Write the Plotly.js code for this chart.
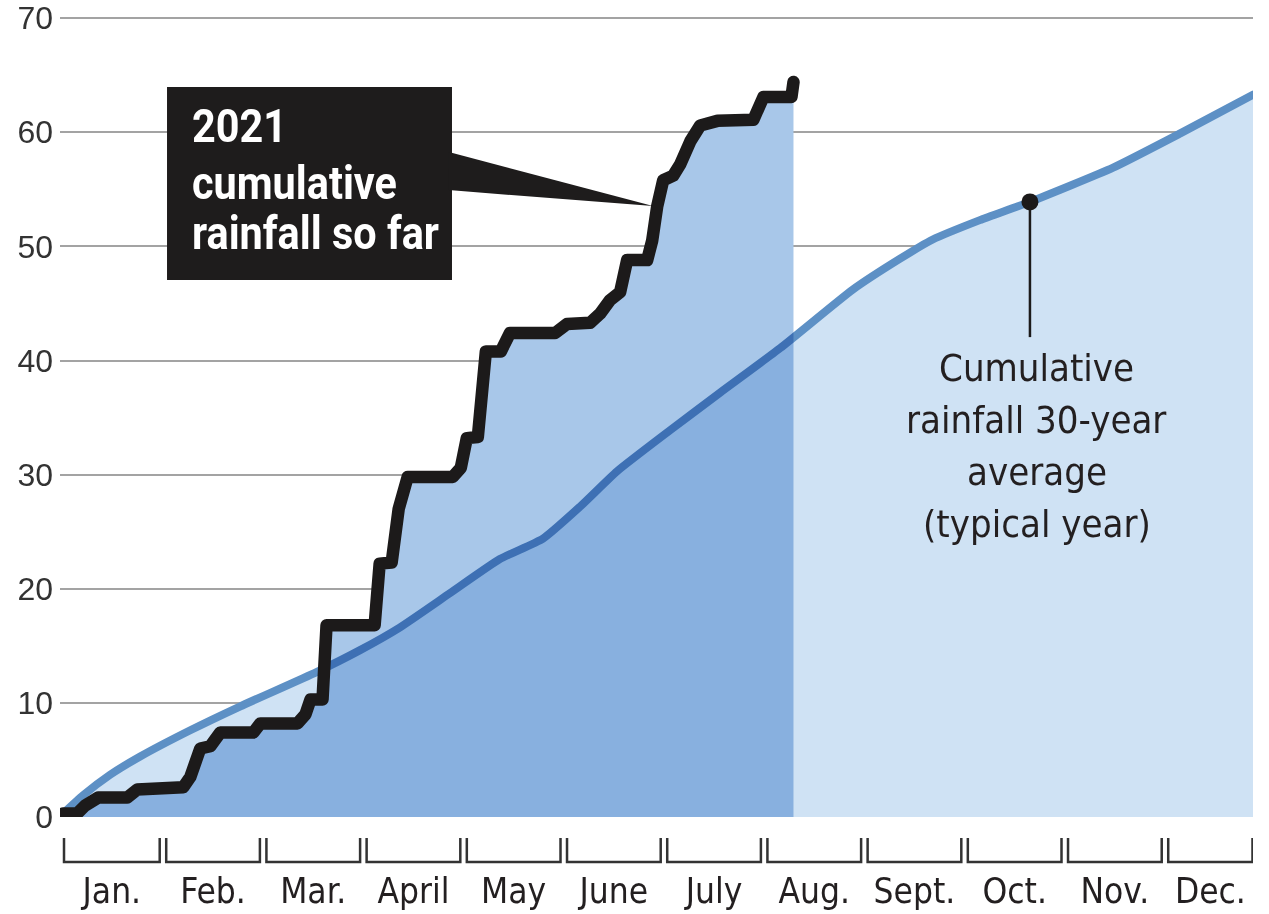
<!DOCTYPE html>
<html>
<head>
<meta charset="utf-8">
<script src="https://cdn.plot.ly/plotly-3.0.1.min.js"></script>
<style>
  html, body { margin: 0; padding: 0; background: #ffffff; }
  #chart { width: 1269px; height: 914px; }
</style>
</head>
<body>
<div id="chart"></div>
<script>
// ---- Data (x in months from Jan. 1; y in inches) ----
const months = ["Jan.", "Feb.", "Mar.", "April", "May", "June", "July", "Aug.", "Sept.", "Oct.", "Nov.", "Dec."];
const yTicks = [0, 10, 20, 30, 40, 50, 60, 70];

// 2021 cumulative rainfall (step-like trace)
const rainX = [0.00, 0.14, 0.22, 0.35, 0.64, 0.74, 1.20, 1.27, 1.37, 1.47, 1.57, 1.90, 1.97, 2.34, 2.42, 2.47, 2.59, 2.63,
               3.11, 3.16, 3.28, 3.35, 3.44, 3.89, 3.97, 4.03, 4.14, 4.22, 4.37, 4.46, 4.91, 5.03, 5.26, 5.36, 5.46,
               5.56, 5.63, 5.83, 5.88, 5.93, 5.99, 6.09, 6.16, 6.26, 6.36, 6.53, 6.89, 6.99, 7.27, 7.29];
const rainY = [0.3, 0.3, 1.0, 1.7, 1.7, 2.4, 2.6, 3.5, 6.0, 6.2, 7.4, 7.4, 8.2, 8.2, 9.0, 10.3, 10.3, 16.8,
               16.8, 22.2, 22.3, 27.0, 29.8, 29.8, 30.6, 33.2, 33.3, 40.8, 40.8, 42.4, 42.4, 43.2, 43.3, 44.1, 45.3,
               46.0, 48.8, 48.8, 50.5, 53.5, 55.8, 56.2, 57.2, 59.2, 60.6, 61.0, 61.1, 63.1, 63.1, 64.4];

// 30-year average cumulative rainfall
const avgX = [0.00, 0.20, 0.47, 0.77, 1.27, 1.77, 2.53, 2.96, 3.36, 3.86, 4.36, 4.79, 5.16, 5.53, 6.06, 6.56,
              7.16, 7.88, 8.35, 8.68, 9.15, 9.65, 10.48, 11.15, 11.88];
const avgY = [0.3, 1.9, 3.7, 5.3, 7.6, 9.7, 12.7, 14.6, 16.6, 19.6, 22.6, 24.4, 27.2, 30.3, 33.9, 37.2,
              41.1, 46.2, 48.9, 50.6, 52.3, 53.9, 56.9, 59.9, 63.3];
const avgLabelIndex = 21; // point marked with the dot

// ---- Month brackets & label positions ----
const X_END = 11.876;
const bracketL = months.map((m, i) => (i === 0 ? 0.01 : i + 0.03));
const bracketR = months.map((m, i) => Math.min(i + 0.965, X_END - 0.005));
const monthCenters = months.map((m, i) => (bracketL[i] + bracketR[i]) / 2);

const COND = "'DejaVu Sans Condensed', 'Liberation Sans Narrow', 'Arial Narrow', sans-serif";
const BOLD_FONT = "Roboto, 'Liberation Sans', Arial, sans-serif";

const traces = [
  { // average area
    x: avgX, y: avgY, type: 'scatter', mode: 'lines', fill: 'tozeroy',
    fillcolor: '#cfe2f4', line: { width: 0, color: 'rgba(0,0,0,0)' }, hoverinfo: 'skip'
  },
  { // average line
    x: avgX, y: avgY, type: 'scatter', mode: 'lines',
    line: { width: 8, color: '#5d90c5', shape: 'spline', smoothing: 0.5 }, hoverinfo: 'skip'
  },
  { // 2021 area
    x: rainX, y: rainY, type: 'scatter', mode: 'lines', fill: 'tozeroy',
    fillcolor: '#a8c7e9', line: { width: 0, color: 'rgba(0,0,0,0)', simplify: false }, hoverinfo: 'skip'
  },
  { // 2021 line
    x: rainX, y: rainY, type: 'scatter', mode: 'lines',
    line: { width: 12.5, color: '#1c1a1a', simplify: false }, hoverinfo: 'skip'
  },
  { // dot on average line
    x: [avgX[avgLabelIndex]], y: [avgY[avgLabelIndex]], type: 'scatter', mode: 'markers',
    marker: { size: 17, color: '#1c1a1a' }, hoverinfo: 'skip'
  }
];

const shapes = [];
months.forEach((m, i) => {
  const l = bracketL[i], r = bracketR[i];
  shapes.push({
    type: 'path', xref: 'x', yref: 'paper', layer: 'above',
    path: `M ${l},-0.0263 L ${l},-0.0563 L ${r},-0.0563 L ${r},-0.0263`,
    line: { color: '#333333', width: 2.5 }
  });
});
// callout box for 2021
shapes.push({ type: 'rect', xref: 'x', yref: 'y', x0: 1.038, x1: 3.882, y0: 47.05, y1: 63.96,
  fillcolor: '#1e1c1c', line: { width: 0 }, layer: 'above' });
shapes.push({ type: 'path', xref: 'x', yref: 'y', layer: 'above',
  path: 'M 3.85,58.26 L 5.888,53.53 L 3.85,54.93 Z', fillcolor: '#1e1c1c', line: { width: 0 } });
// leader line for average
shapes.push({ type: 'line', xref: 'x', yref: 'y', layer: 'above',
  x0: avgX[avgLabelIndex], x1: avgX[avgLabelIndex], y0: avgY[avgLabelIndex], y1: 42.05,
  line: { color: '#1c1a1a', width: 2.5 } });

const boxLines = ['2021', 'cumulative', 'rainfall so far'];
const boxLineY = [60.54, 55.55, 51.17];
const avgLines = ['Cumulative', 'rainfall 30-year', 'average', '(typical year)'];
const avgLineY = [39.34, 34.78, 30.23, 25.67];

const annotations = [];
boxLines.forEach((t, i) => annotations.push({
  text: t, xref: 'x', yref: 'y', x: 1.265, y: boxLineY[i], xanchor: 'left', yanchor: 'middle',
  showarrow: false, font: { family: BOLD_FONT, size: 46, color: '#ffffff', weight: 'bold' }
}));
avgLines.forEach((t, i) => annotations.push({
  text: t, xref: 'x', yref: 'y', x: 9.72, y: avgLineY[i], xanchor: 'center', yanchor: 'middle',
  showarrow: false, font: { family: COND, size: 38, color: '#231f20' }
}));

const layout = {
  width: 1269, height: 914,
  margin: { l: 60, r: 16, t: 17, b: 97 },
  paper_bgcolor: '#ffffff', plot_bgcolor: '#ffffff',
  showlegend: false,
  xaxis: {
    range: [-0.03, X_END], showgrid: false, zeroline: false, showline: false,
    tickmode: 'array', tickvals: monthCenters, ticktext: months, ticks: '',
    ticklabelstandoff: 50,
    tickfont: { family: COND, size: 35, color: '#231f20' }, fixedrange: true
  },
  yaxis: {
    range: [0, 70.1], tickmode: 'array', tickvals: yTicks, ticktext: yTicks.map(String),
    showgrid: true, gridcolor: '#a3a3a3', gridwidth: 2, zeroline: false, showline: false,
    ticks: '', ticklabelstandoff: 6, ticklabeloverflow: 'allow',
    tickfont: { family: "'Liberation Sans', Arial, sans-serif", size: 32, color: '#333333' }, fixedrange: true
  },
  shapes: shapes,
  annotations: annotations
};

Plotly.newPlot('chart', traces, layout, { displayModeBar: false, staticPlot: true }).then(gd => {
  const groups = gd.querySelectorAll('.scatterlayer .trace');
  [0, 2].forEach(k => {
    if (groups[k]) groups[k].querySelectorAll('.js-fill').forEach(p => { p.style.mixBlendMode = 'multiply'; });
  });
  if (groups[3]) groups[3].querySelectorAll('.js-line').forEach(p => {
    p.style.strokeLinejoin = 'round'; p.style.strokeLinecap = 'round';
  });
  if (groups[1]) groups[1].querySelectorAll('.js-line').forEach(p => {
    p.style.strokeLinecap = 'round';
  });
  // condense the bold callout text horizontally (the original uses a condensed face)
  const anns = gd.querySelectorAll('.annotation');
  for (let i = 0; i < boxLines.length && i < anns.length; i++) {
    const t = anns[i].querySelector('text.annotation-text');
    if (!t) continue;
    const bb = t.getBBox();
    const x0 = bb.x, s = 0.9;
    t.setAttribute('transform', `translate(${x0},0) scale(${s},1) translate(${-x0},0)`);
  }
});
</script>
</body>
</html>
